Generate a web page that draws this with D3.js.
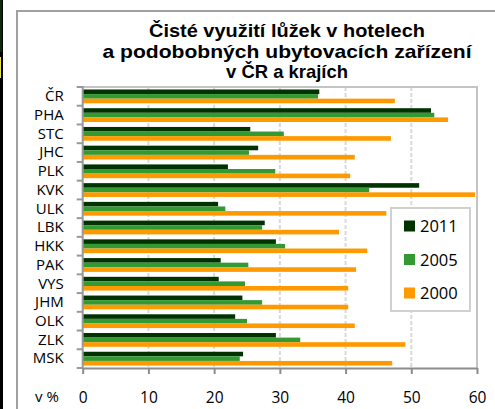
<!DOCTYPE html>
<html><head><meta charset="utf-8">
<script src="https://cdn.jsdelivr.net/npm/d3@7"></script>
<style>body{margin:0;background:#fff}svg{display:block}</style>
</head><body><svg id="c" width="495" height="409"></svg>
<script>
const categories = ["ČR","PHA","STC","JHC","PLK","KVK","ULK","LBK","HKK","PAK","VYS","JHM","OLK","ZLK","MSK"];
const series = ["2011","2005","2000"];
const v2011 = [36.0,53.0,25.5,26.7,22.1,51.2,20.6,27.7,29.4,21.0,20.7,24.3,23.2,29.4,24.4];
const v2005 = [35.8,53.5,30.6,25.3,29.3,43.6,21.7,27.3,30.8,25.2,24.7,27.3,25.0,33.1,23.9];
const v2000 = [47.5,55.6,46.9,41.4,40.7,59.7,46.2,39.0,43.3,41.6,40.4,40.4,41.4,49.1,47.1];
const xTicks = [0,10,20,30,40,50,60];
const titleLines = ["Čisté využití lůžek v hotelech","a podobobných ubytovacích zařízení","v ČR a krajích"];
const colors = {"2011":"#003300","2005":"#339933","2000":"#ff9900"};

const values = {"2011":v2011,"2005":v2005,"2000":v2000};
const svg = d3.select("#c");
const font = "'Open Sans', sans-serif";

// left edge strip
svg.append("rect").attr("x",0).attr("y",0).attr("width",3).attr("height",409).attr("fill","#000");
svg.append("rect").attr("x",0).attr("y",0).attr("width",2).attr("height",52).attr("fill","#0a2a0a");
svg.append("rect").attr("x",0).attr("y",57).attr("width",1).attr("height",21).attr("fill","#e8e040");

// chart frame
svg.append("path").attr("d","M17,409V11H495").attr("fill","none").attr("stroke","#a0a0a0").attr("stroke-width",2);

const x = d3.scaleLinear().domain([0,60]).range([82.7,477]);
const y = d3.scaleBand().domain(categories).range([87,368]);
const yi = d3.scaleBand().domain(series).range([0,y.bandwidth()]).paddingOuter(0.54);

// title
const titleWidths = [276,369,122];
const t = svg.append("text").attr("text-anchor","middle").attr("font-family","'Liberation Sans', Arial, sans-serif")
  .attr("font-weight","bold").attr("font-size",19).attr("fill","#000");
titleLines.forEach((s,i)=>t.append("tspan").attr("x",287).attr("y",37+i*20.5)
  .attr("textLength",titleWidths[i]).attr("lengthAdjust","spacingAndGlyphs").text(s));

// gridlines
svg.append("g").selectAll("line").data(xTicks.filter(d=>d>0&&d<60)).join("line")
  .attr("x1",d=>x(d)).attr("x2",d=>x(d)).attr("y1",87).attr("y2",368)
  .attr("stroke","#d9d9d9").attr("stroke-width",2).attr("stroke-dasharray","4,2");
// plot border top/right
svg.append("path").attr("d",`M${x(0)},87H${x(60)}V368`).attr("fill","none").attr("stroke","#c4c4c4").attr("stroke-width",2);

// bars
const g = svg.append("g");
categories.forEach((c,i)=>{
  series.forEach(s=>{
    g.append("rect").attr("x",x(0)).attr("y",y(c)+yi(s)).attr("width",x(values[s][i])-x(0))
      .attr("height",yi.bandwidth()).attr("fill",colors[s]);
  });
});

// y axis
const ya = svg.append("g").attr("transform",`translate(${x(0)},0)`)
  .call(d3.axisLeft(y).tickSize(0).tickPadding(19));
ya.select(".domain").remove();
ya.selectAll("text").attr("font-family",font).attr("font-size",15).attr("fill","#000");
svg.append("line").attr("x1",x(0)).attr("x2",x(0)).attr("y1",86).attr("y2",369).attr("stroke","#999").attr("stroke-width",2);
const bounds = categories.map(c=>y(c)).concat([y.range()[1]]);
svg.append("g").selectAll("line").data(bounds).join("line")
  .attr("x1",x(0)-6).attr("x2",x(0)).attr("y1",d=>d).attr("y2",d=>d).attr("stroke","#999").attr("stroke-width",2);

// x axis
const xa = svg.append("g").attr("transform","translate(0,368)")
  .call(d3.axisBottom(x).tickValues(xTicks).tickSize(6).tickPadding(18).tickSizeOuter(0));
xa.select(".domain").attr("stroke","#8c8c8c").attr("stroke-width",2);
xa.selectAll(".tick line").attr("stroke","#8c8c8c").attr("stroke-width",2);
xa.selectAll("text").attr("font-family",font).attr("font-size",15.5).attr("fill","#000");
svg.append("text").attr("x",35).attr("y",402).attr("font-family",font).attr("font-size",15).attr("fill","#000").text("v %");

// legend
const lg = svg.append("g");
lg.append("rect").attr("x",391).attr("y",208).attr("width",79).attr("height",103).attr("fill","#fff").attr("stroke","#d0d0d0").attr("stroke-width",2);
series.forEach((s,i)=>{
  const cy = 226+i*33.5;
  lg.append("rect").attr("x",404).attr("y",cy-5.5).attr("width",11).attr("height",11).attr("fill",colors[s]);
  lg.append("text").attr("x",420).attr("y",cy+6).attr("font-family",font).attr("font-size",16.5).attr("fill","#000").text(s);
});
</script></body></html>
